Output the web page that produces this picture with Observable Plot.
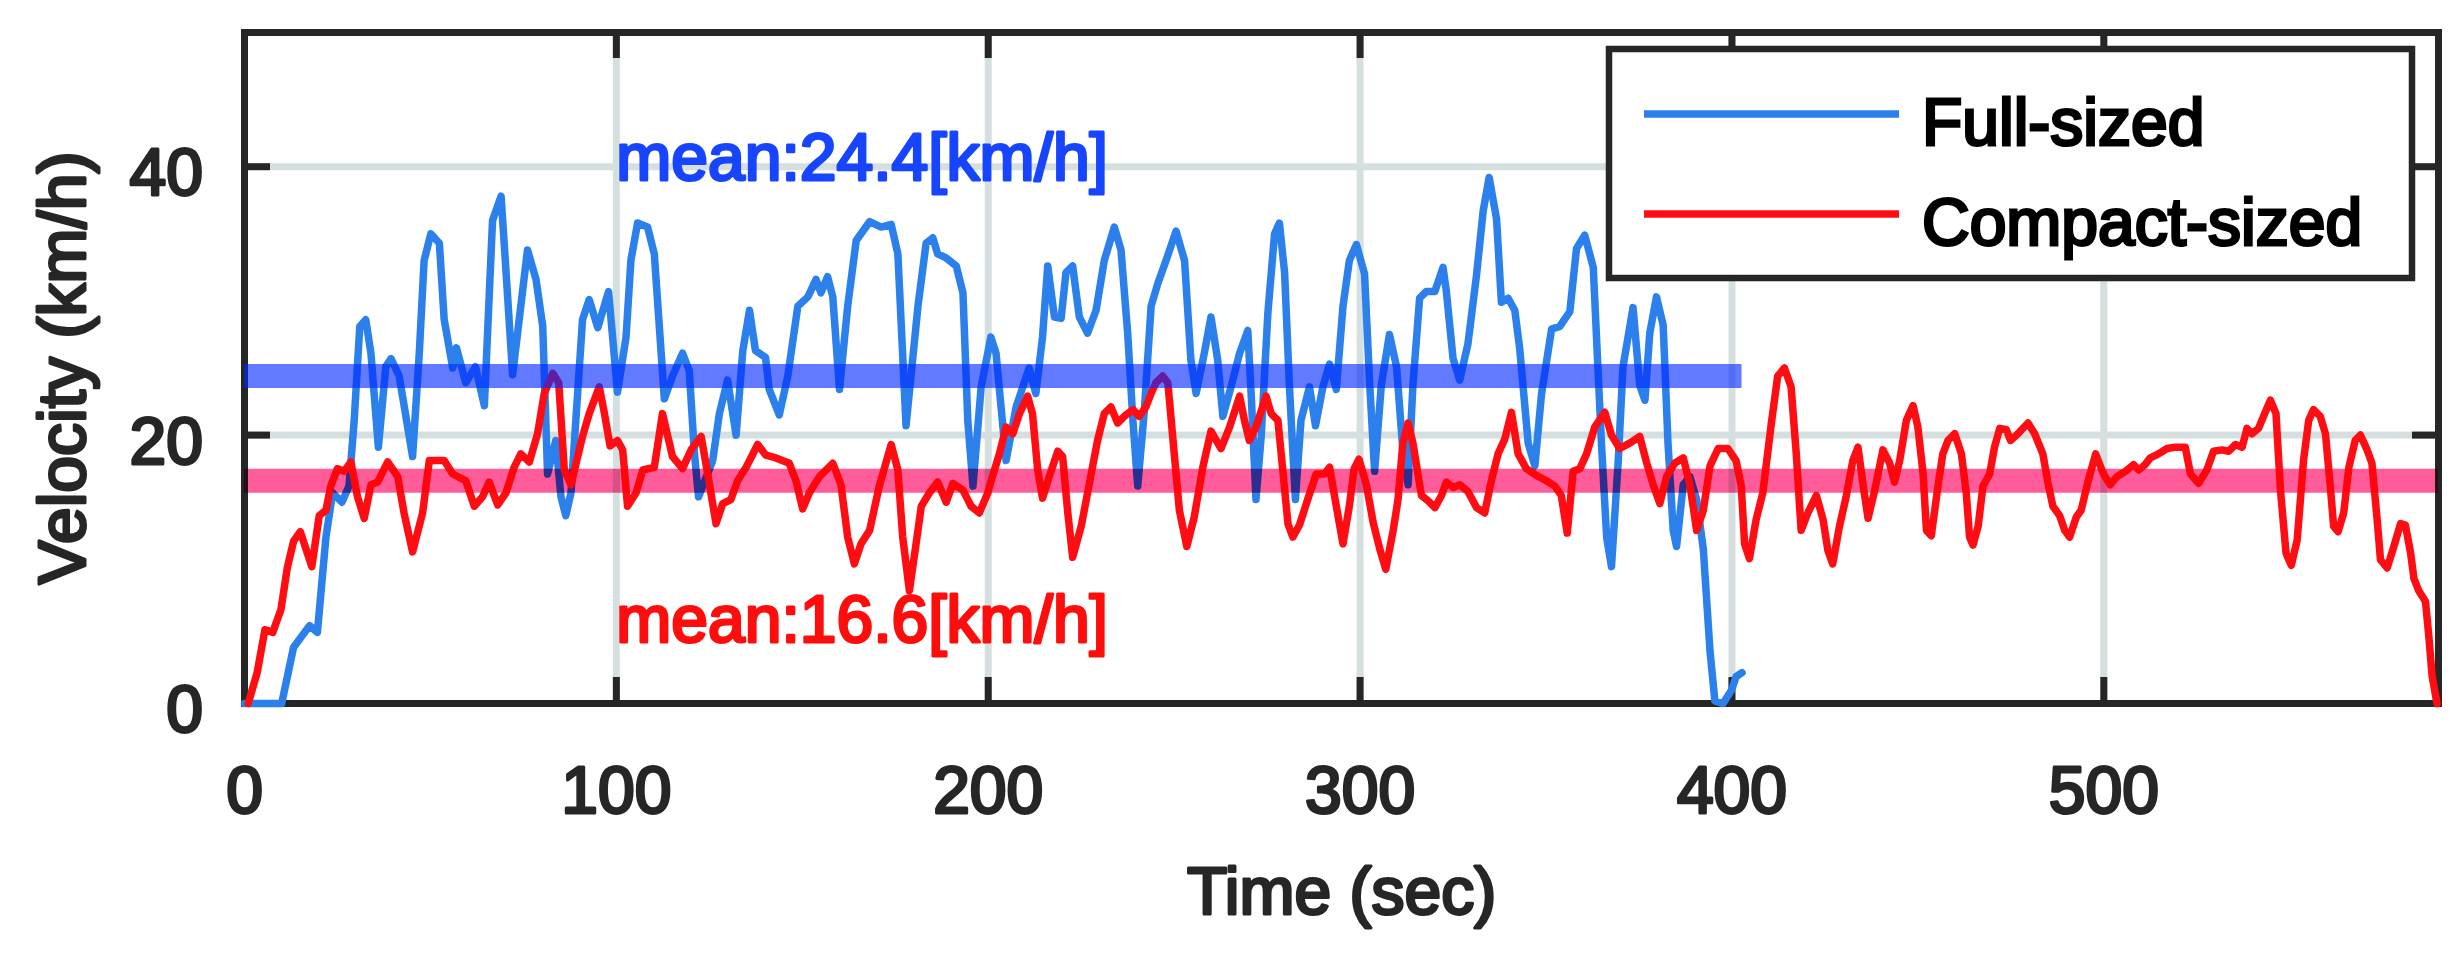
<!DOCTYPE html>
<html>
<head>
<meta charset="utf-8">
<script src="https://cdn.jsdelivr.net/npm/d3@7"></script>
<script src="https://cdn.jsdelivr.net/npm/@observablehq/plot@0.6"></script>
<style>
  html, body { margin: 0; padding: 0; background: #ffffff; }
  #chart svg { display: block; }
</style>
</head>
<body>
<div id="chart"></div>
<script>
// ---------------- data ----------------
const seriesNames = ["Full-sized", "Compact-sized"];
const seriesColors = ["#2b80ec", "#ff0d12"];
const meanValues = [24.4, 16.6];
const meanLabels = ["mean:24.4[km/h]", "mean:16.6[km/h]"];
const meanLabelColors = ["#1745ff", "#ff0d0d"];
const xTicks = [0, 100, 200, 300, 400, 500];
const yTicks = [0, 20, 40];
const xLabel = "Time (sec)";
const yLabel = "Velocity (km/h)";

const fullTime = [0,10,13.2,17.5,19.6,21.9,23.7,26.2,28.1,29.5,31.0,32.6,34.0,36.0,38.0,39.4,41.6,45.2,47.0,48.3,50.1,52.4,53.7,56.0,57.0,59.5,62.1,64.5,66.7,69.0,70.3,72.1,76.1,78.4,80.2,81.5,83.7,85.1,86.4,87.8,90.9,92.7,95.0,97.9,100.3,102.6,103.9,105.7,108.4,110.2,112.9,115.1,117.8,119.6,121.0,122.1,125.9,127.7,129.9,132.2,134.0,135.8,137.4,140.1,141.1,143.8,146.1,148.8,151.5,153.7,155.0,156.8,158.2,160.0,162.2,164.5,168.1,171.2,173.9,175.7,177.9,181.1,183.3,185.1,186.4,188.7,191.4,193.2,194.5,195.9,198.1,200.7,202.1,204.8,207.5,211.0,212.8,214.6,216.0,217.8,219.6,220.9,222.7,224.5,226.7,229.0,231.2,233.9,235.7,237.5,238.9,240.2,242.0,243.8,245.6,247.8,250.5,252.8,254.5,255.9,258.1,259.9,261.7,263.1,265.3,267.6,269.8,270.7,272.0,273.4,275.2,277.0,278.3,279.7,281.0,282.6,284.1,286.4,288.0,290.0,291.8,293.6,295.4,297.1,299.0,301.2,302.6,303.9,305.7,307.9,309.8,311.5,312.9,314.2,316.0,317.8,320.1,322.3,323.2,325.0,326.8,329.0,331.3,333.1,334.7,336.7,338.0,339.8,341.6,342.9,345.2,347.0,348.8,351.5,353.7,356.4,358.2,360.4,362.7,364.9,366.3,367.6,369.4,370.7,373.4,375.2,376.6,377.9,379.7,381.5,382.8,384.2,385.1,386.9,388.7,390.5,392.3,394.1,395.4,397.6,399.9,401.1,402.7];
const fullSpeed = [0,0,4.2,5.8,5.3,12.4,15.7,15.0,16.2,21.1,28.1,28.6,26.1,19.1,25.1,25.7,24.4,18.4,26.1,33.0,35.0,34.3,28.6,25.0,26.5,23.9,25.1,22.2,36.0,37.8,32.3,24.5,33.8,31.6,28.1,17.1,19.6,15.4,14.0,15.7,28.6,30.1,28.0,30.7,23.2,27.3,33.0,35.8,35.5,33.5,22.7,24.4,26.1,24.8,18.6,15.4,18.1,21.6,24.1,20.0,26.3,29.3,26.3,25.8,23.4,21.5,24.4,29.6,30.3,31.6,30.6,31.8,30.3,23.4,29.6,34.5,35.9,35.5,35.7,33.5,20.7,29.6,34.3,34.7,33.5,33.2,32.6,30.6,21.1,16.2,23.6,27.3,26.1,18.1,22.1,25.0,23.1,27.3,32.6,28.8,28.7,32.1,32.6,28.8,27.6,29.3,33.0,35.5,33.8,27.6,21.1,16.2,21.9,29.6,31.3,33.0,35.2,33.0,25.6,23.1,26.1,28.8,25.6,21.4,23.6,26.1,27.8,23.1,15.2,19.9,29.1,35.0,35.8,32.1,23.6,15.2,21.1,23.6,20.7,23.6,25.3,23.4,29.6,33.0,34.2,32.0,23.7,17.3,23.7,27.5,25.1,18.9,16.3,23.7,30.2,30.7,30.7,32.5,30.7,25.7,24.1,26.8,31.9,36.7,39.2,36.1,29.9,30.2,29.3,26.5,19.4,17.7,23.1,27.9,28.1,29.2,33.9,34.9,32.5,19.4,12.4,10.2,18.0,25.1,29.5,23.7,22.6,27.6,30.3,28.2,19.4,12.9,11.7,16.3,16.9,15.2,11.5,3.9,0.2,0.0,1.0,2.0,2.3];

const compactTime = [1,3.4,5.5,7.6,9.8,11.5,13.2,15.0,18.1,20.1,21.9,23.2,25.0,26.8,28.6,30.4,32.2,34.0,35.8,38.5,41.2,42.9,45.2,47.9,49.7,51.5,53.7,56.0,59.5,61.8,64.0,65.8,68.1,70.3,72.5,74.3,76.6,78.8,80.6,82.9,84.5,86.0,87.8,90.9,92.7,95.4,96.8,98.3,100.3,101.7,103.0,105.3,107.1,110.2,112.4,115.1,117.8,120.1,122.8,125.0,126.8,128.6,130.8,132.6,134.9,138.0,140.2,142.9,146.5,148.3,150.1,151.9,154.6,158.2,160.4,162.2,164.0,165.8,168.1,170.7,173.9,175.7,177.0,178.8,180.6,182.0,184.2,186.4,188.7,190.5,193.2,195.4,197.6,199.9,201.0,203.0,204.8,206.6,208.4,210.6,211.9,213.3,214.6,216.4,218.7,220.0,221.4,222.7,225.0,227.2,229.4,231.2,233.0,234.8,236.6,238.9,240.6,242.4,243.8,245.1,246.9,248.3,249.6,251.4,253.4,255.4,257.7,259.9,262.6,264.9,267.6,268.9,270.2,272.0,274.7,276.1,277.9,279.2,280.6,281.9,283.7,285.9,288.2,290.4,291.8,293.6,295.4,297.1,298.4,299.7,301.7,303.5,305.3,306.9,308.9,310.2,311.5,312.9,314.2,316.5,318.3,320.1,321.9,323.2,325.0,326.8,329.0,331.3,333.5,335.3,337.1,338.9,340.7,342.5,344.7,347.4,350.1,352.4,354.1,355.7,357.3,359.1,360.9,363.1,365.8,367.6,369.8,372.5,375.2,377.0,378.8,380.6,382.4,384.6,386.9,388.7,390.5,392.3,394.1,396.3,398.9,401.1,402.5,403.4,404.7,406.5,408.3,410.6,412.3,414.1,415.9,417.3,418.6,420.4,422.7,424.5,425.8,427.1,428.9,430.7,432.5,433.9,435.2,436.6,438.4,440.6,442.4,443.7,445.1,446.9,448.7,450.0,451.4,452.3,453.6,455.4,456.7,458.1,459.9,461.7,463.0,463.9,464.8,466.2,467.5,469.3,470.6,472.0,473.8,474.9,476.9,479.6,481.4,483.6,485.0,486.3,488.1,489.5,490.8,492.6,493.9,495.8,497.8,499.9,501.7,503.5,505.8,508.0,509.4,511.1,512.5,514.7,517.0,519.2,521.9,523.3,525.5,527.7,529.5,531.8,533.6,535.4,537.2,538.5,539.8,541.6,543.4,544.8,546.3,547.5,549.0,550.4,552.0,553.7,555.1,556.4,558.2,559.6,560.9,561.8,563.0,564.5,565.9,567.6,569.0,570.8,572.1,573.5,574.4,576.2,578.0,579.8,581.1,582.5,583.4,584.7,586.5,587.4,588.3,589.6];
const compactSpeed = [0,2.3,5.5,5.3,7.0,10.1,12.1,12.8,10.2,14.0,14.4,16.2,17.5,17.3,18.0,15.4,13.8,16.3,16.5,18.0,16.9,14.2,11.3,14.2,18.1,18.1,18.1,17.1,16.6,14.7,15.4,16.5,14.8,15.7,17.6,18.6,18.0,20.1,23.1,24.6,23.9,17.4,16.3,19.9,21.6,23.6,21.6,19.2,19.6,18.9,14.7,15.7,17.4,17.6,21.6,18.4,17.5,18.9,19.9,16.4,13.4,14.9,15.2,16.6,17.6,19.3,18.5,18.3,17.9,16.6,14.5,15.7,16.9,17.9,16.3,12.4,10.4,11.9,12.9,16.2,19.3,17.4,12.4,8.4,11.9,14.7,15.7,16.5,15.0,16.4,15.9,14.7,14.2,15.7,16.8,18.6,20.6,20.1,21.6,22.9,21.6,17.4,15.3,16.9,18.8,18.4,14.2,10.9,13.2,16.4,19.6,21.6,22.1,20.9,21.4,21.9,21.4,22.1,23.1,23.9,24.4,23.9,19.9,14.4,11.7,13.9,17.6,20.3,19.0,20.6,22.9,21.1,19.6,20.6,22.9,21.6,21.1,17.4,13.4,12.4,13.3,15.2,17.1,17.1,17.6,14.7,11.9,14.7,17.5,18.2,16.3,13.5,11.5,10.0,12.9,15.2,19.4,20.9,19.4,15.5,15.1,14.6,15.5,16.5,16.1,16.3,15.8,14.6,14.2,16.6,18.6,19.7,21.7,18.6,17.5,17.0,16.6,16.2,15.5,12.7,17.3,17.5,18.6,20.6,21.7,20.0,19.0,19.4,19.9,18.0,16.3,14.9,16.9,17.9,18.3,16.3,12.9,14.4,17.7,19.0,19.0,18.1,16.2,11.9,10.8,13.7,15.7,20.9,24.4,25.0,23.6,18.6,12.9,14.2,15.5,13.7,11.4,10.4,13.2,15.4,18.1,19.1,16.4,13.8,15.9,18.9,17.9,16.5,18.1,21.1,22.2,20.6,17.1,12.9,12.5,16.2,18.6,19.6,20.1,18.6,15.7,12.4,11.8,13.2,16.2,17.1,19.1,20.5,20.4,19.6,20.1,20.9,20.1,18.6,16.4,14.7,14.0,12.9,12.4,13.9,14.4,16.6,18.6,17.1,16.3,16.9,17.3,17.8,17.4,17.8,18.3,18.6,19.0,19.1,19.1,17.1,16.4,17.4,18.8,18.9,18.8,19.3,19.1,20.5,20.1,20.5,21.7,22.6,21.6,15.9,11.2,10.3,12.2,18.1,21.1,21.9,21.4,20.1,16.2,13.2,12.8,14.2,17.6,19.6,20.0,18.9,17.9,13.7,10.7,10.1,11.7,13.4,13.3,11.2,9.3,8.4,7.6,5.0,2.0,0.0];

// ---------------- layout / style ----------------
const W = 2462, H = 958;
const mL = 244, mR = 24, mT = 32, mB = 255;
const xDomain = [0, 590], yDomain = [0, 50];
const FONT = "'Liberation Sans', Arial, Helvetica, sans-serif";
const INK = "#262626";
const GRID = "#d6dfdf";
const FS = 66;
const TICK_PX = 26;
const LINE_W = 7.5;

const full = fullTime.map((t, i) => ({t, v: fullSpeed[i]}));
const compact = compactTime.map((t, i) => ({t, v: compactSpeed[i]}));

const pxPerX = (W - mL - mR) / (xDomain[1] - xDomain[0]);
const pxPerY = (H - mT - mB) / (yDomain[1] - yDomain[0]);
const tickX = TICK_PX / pxPerX;  // y-axis tick length in x units
const tickY = TICK_PX / pxPerY;  // x-axis tick length in y units

const textStyle = (c) => ({fill: c, stroke: c, strokeWidth: 3, fontSize: FS});

const chart = Plot.plot({
  width: W,
  height: H,
  marginLeft: mL, marginRight: mR, marginTop: mT, marginBottom: mB,
  style: {fontFamily: FONT, background: "#ffffff", overflow: "visible"},
  x: {domain: xDomain},
  y: {domain: yDomain},
  marks: [
    Plot.gridX(xTicks.filter(d => d > xDomain[0]), {stroke: GRID, strokeOpacity: 1, strokeWidth: 7}),
    Plot.gridY(yTicks.filter(d => d > yDomain[0]), {stroke: GRID, strokeOpacity: 1, strokeWidth: 7}),
    Plot.frame({stroke: INK, strokeWidth: 7}),
    // inward ticks on all four sides
    Plot.ruleX(xTicks, {y1: yDomain[0], y2: yDomain[0] + tickY, stroke: INK, strokeWidth: 7}),
    Plot.ruleX(xTicks, {y1: yDomain[1], y2: yDomain[1] - tickY, stroke: INK, strokeWidth: 7}),
    Plot.ruleY(yTicks, {x1: xDomain[0], x2: xDomain[0] + tickX, stroke: INK, strokeWidth: 7}),
    Plot.ruleY(yTicks, {x1: xDomain[1], x2: xDomain[1] - tickX, stroke: INK, strokeWidth: 7}),
    // tick labels
    Plot.axisX({ticks: xTicks, tickSize: 0, tickPadding: 63, fontSize: FS, label: null,
      color: INK, textStroke: INK, textStrokeWidth: 3, tickFormat: d => String(d)}),
    Plot.axisY({ticks: yTicks, tickSize: 0, tickPadding: 41.5, fontSize: FS, label: null, dy: 7.5,
      color: INK, textStroke: INK, textStrokeWidth: 3, tickFormat: d => String(d)}),
    // series
    Plot.line(full, {x: "t", y: "v", stroke: seriesColors[0], strokeWidth: LINE_W,
      strokeLinejoin: "round", strokeLinecap: "round"}),
    Plot.line(compact, {x: "t", y: "v", stroke: seriesColors[1], strokeWidth: LINE_W,
      strokeLinejoin: "round", strokeLinecap: "round"}),
    // mean bands
    Plot.ruleY([meanValues[0]], {x1: 0, x2: d3.max(fullTime), stroke: "rgb(0,40,255)",
      strokeOpacity: 0.62, strokeWidth: 24}),
    Plot.ruleY([meanValues[1]], {x1: 0, x2: xDomain[1], stroke: "#ff5c99",
      strokeWidth: 24, mixBlendMode: "multiply"}),
    // mean labels
    Plot.text([meanLabels[0]], {x: 100, y: 39.0, text: d => d, textAnchor: "start",
      lineAnchor: "bottom", ...textStyle(meanLabelColors[0])}),
    Plot.text([meanLabels[1]], {x: 100, y: 4.6, text: d => d, textAnchor: "start",
      lineAnchor: "bottom", ...textStyle(meanLabelColors[1])}),
    // axis titles
    Plot.text([xLabel], {frameAnchor: "bottom", dy: 210, lineAnchor: "bottom",
      text: d => d, ...textStyle(INK)}),
    Plot.text([yLabel], {frameAnchor: "left", rotate: -90, dx: -160, lineAnchor: "bottom",
      textAnchor: "middle", text: d => d, ...textStyle(INK)})
  ]
});

document.getElementById("chart").appendChild(chart);

// ---------------- legend (inside the axes, top-right) ----------------
const svg = d3.select(chart);
const legend = {x: 1609, y: 49, w: 803, h: 229, lineX1: 1644, lineX2: 1899, textX: 1922, rowY: [114, 214], baseOff: 31};
const g = svg.append("g").attr("class", "legend");
g.append("rect")
  .attr("x", legend.x).attr("y", legend.y)
  .attr("width", legend.w).attr("height", legend.h)
  .attr("fill", "#ffffff").attr("stroke", INK).attr("stroke-width", 6.5);
seriesNames.forEach((name, i) => {
  g.append("line")
    .attr("x1", legend.lineX1).attr("x2", legend.lineX2)
    .attr("y1", legend.rowY[i]).attr("y2", legend.rowY[i])
    .attr("stroke", seriesColors[i]).attr("stroke-width", LINE_W);
  g.append("text")
    .attr("x", legend.textX).attr("y", legend.rowY[i] + legend.baseOff)
    .attr("text-anchor", "start")
    .attr("font-family", FONT).attr("font-size", FS)
    .attr("fill", "#000000").attr("stroke", "#000000").attr("stroke-width", 3)
    .attr("paint-order", "stroke")
    .text(name);
});
</script>
</body>
</html>
